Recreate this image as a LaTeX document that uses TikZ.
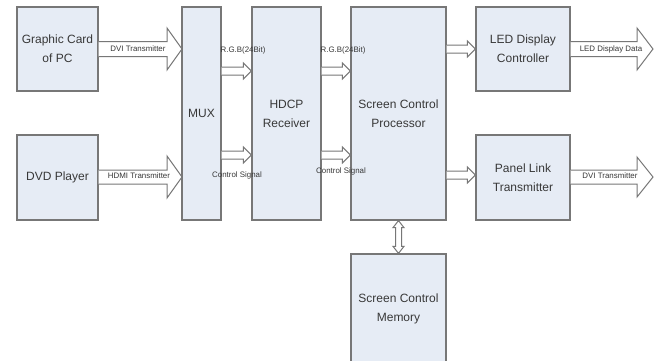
\documentclass[tikz,border=0pt]{standalone}
\usepackage{fontspec}
\setmainfont{Liberation Sans}
\usetikzlibrary{calc}
\definecolor{boxfill}{HTML}{E6ECF5}
\definecolor{boxline}{HTML}{777777}
\definecolor{txt}{HTML}{383838}
\newcommand\hollowarrow[5]{%
  \draw[arr] let \p1=#1, \p2=#2 in
    (\x1,\y1-#3pt) -- (\x2-#5pt,\y1-#3pt) -- (\x2-#5pt,\y1-#4pt) -- (\x2,\y1)
    -- (\x2-#5pt,\y1+#4pt) -- (\x2-#5pt,\y1+#3pt) -- (\x1,\y1+#3pt);}
\newcommand\vdoublearrow[5]{%
  \draw[arr] let \p1=#1, \p2=#2 in
    (\x1,\y1) -- (\x1+#4pt,\y1-#5pt) -- (\x1+#3pt,\y1-#5pt) -- (\x1+#3pt,\y2+#5pt)
    -- (\x1+#4pt,\y2+#5pt) -- (\x1,\y2) -- (\x1-#4pt,\y2+#5pt) -- (\x1-#3pt,\y2+#5pt)
    -- (\x1-#3pt,\y1-#5pt) -- (\x1-#4pt,\y1-#5pt) -- cycle;}
\begin{document}
\begin{tikzpicture}[x=1pt,y=-1pt,
  blk/.style={draw=boxline,line width=1.3pt,fill=boxfill,text=txt,align=center,
    font=\fontsize{12}{19}\selectfont,inner sep=0pt},
  arr/.style={draw=boxline,line width=1pt,fill=white},
  lbl/.style={text=txt,font=\fontsize{7.9}{9}\selectfont,inner sep=0pt}]
\useasboundingbox[fill=white] (0,0) rectangle (662,360);
% blocks
\node[blk,minimum width=81pt,minimum height=84pt] (gc) at (57.5,49) {Graphic Card\\of PC};
\node[blk,minimum width=81pt,minimum height=85pt] (dvd) at (57.5,177.5) {DVD Player};
\node[blk,minimum width=39pt,minimum height=213pt] (mux) at (201.5,113.5) {MUX};
\node[blk,minimum width=69pt,minimum height=213pt] (hdcp) at (286.5,113.5) {HDCP\\Receiver};
\node[blk,minimum width=95pt,minimum height=213pt] (scp) at (398.5,113.5) {Screen Control\\Processor};
\node[blk,minimum width=94pt,minimum height=84pt] (led) at (523,49) {LED Display\\Controller};
\node[blk,minimum width=94pt,minimum height=85pt] (plt) at (523,177.5) {Panel Link\\Transmitter};
\node[blk,minimum width=95pt,minimum height=110pt] (mem) at (398.5,309) {Screen Control\\Memory};
% helper coordinates
\coordinate (rgb) at (0,71);
\coordinate (ctl) at (0,155);
\coordinate (pl) at (0,175);
\coordinate (gcout) at (182,49);
\coordinate (dvdout) at (182,177);
\coordinate (ledout) at (653,49);
\coordinate (pltout) at (653,177);
% big hollow arrows
\hollowarrow{(gc.east)}{(gcout)}{7.5}{21}{15}
\hollowarrow{(dvd.east |- dvdout)}{(dvdout)}{7}{21}{15}
\hollowarrow{(led.east)}{(ledout)}{7.5}{21}{16}
\hollowarrow{(plt.east |- pltout)}{(pltout)}{7}{20}{16}
% small hollow arrows
\hollowarrow{(mux.east |- rgb)}{(hdcp.west |- rgb)}{4}{8}{8}
\hollowarrow{(mux.east |- ctl)}{(hdcp.west |- ctl)}{4}{8}{8}
\hollowarrow{(hdcp.east |- rgb)}{(scp.west |- rgb)}{4}{8}{8}
\hollowarrow{(hdcp.east |- ctl)}{(scp.west |- ctl)}{4}{8}{8}
\hollowarrow{(scp.east |- led.west)}{(led.west)}{4}{8}{8}
\hollowarrow{(scp.east |- pl)}{(plt.west |- pl)}{4}{8}{8}
% memory link
\vdoublearrow{(scp.south)}{(mem.north)}{3}{5.5}{7}
% labels
\node[lbl] (l1) at (138,49) {DVI Transmitter};
\node[lbl] (l2) at (139,176) {HDMI Transmitter};
\node[lbl] (l3) at (611,49) {LED Display Data};
\node[lbl] (l4) at (610,176) {DVI Transmitter};
\node[lbl] (l5) at (243,50) {R.G.B(24Bit)};
\node[lbl] (l6) at (343,50) {R.G.B(24Bit)};
\node[lbl] (l7) at (237,175) {Control Signal};
\node[lbl] (l8) at (341,171) {Control Signal};
\end{tikzpicture}
\end{document}
